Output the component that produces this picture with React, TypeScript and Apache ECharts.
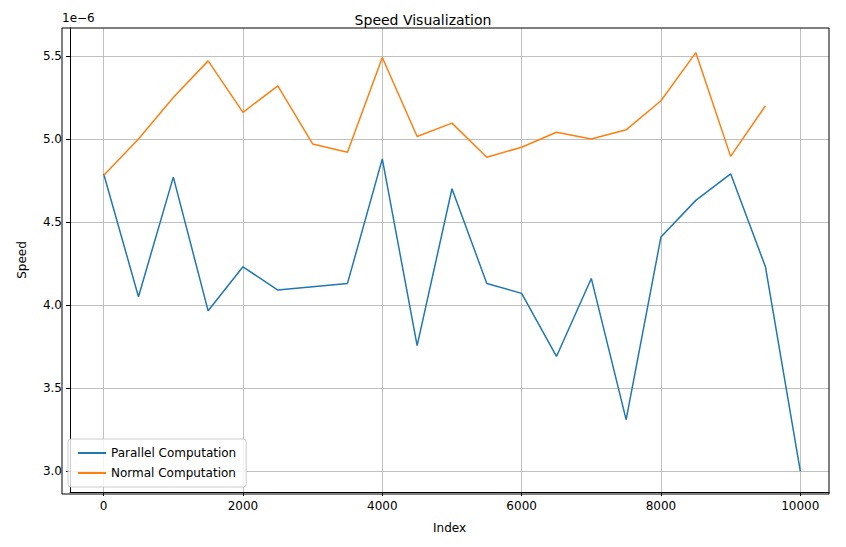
import React, { useRef, useEffect } from 'react'
import * as echarts from 'echarts'

const indices = [0, 500, 1000, 1500, 2000, 2500, 3000, 3500, 4000, 4500, 5000, 5500, 6000, 6500, 7000, 7500, 8000, 8500, 9000, 9500, 10000]
const parallel = [4.79, 4.05, 4.77, 3.965, 4.23, 4.09, 4.11, 4.13, 4.88, 3.755, 4.7, 4.13, 4.07, 3.69, 4.16, 3.31, 4.41, 4.63, 4.79, 4.23, 3.0]
const normal = [4.78, 5.0, 5.25, 5.47, 5.16, 5.32, 4.97, 4.92, 5.49, 5.015, 5.095, 4.89, 4.95, 5.04, 5.0, 5.055, 5.23, 5.52, 4.895, 5.2]
const xTicks = [0, 2000, 4000, 6000, 8000, 10000]
const yTicks = [3.0, 3.5, 4.0, 4.5, 5.0, 5.5]

const font = 'DejaVu Sans'

const App: React.FC = () => {
  const chartRef = useRef<HTMLDivElement>(null)

  useEffect(() => {
    if (!chartRef.current) return
    const chart = echarts.init(chartRef.current, null, { renderer: 'svg' })

    const option = {
      animation: false,
      textStyle: { fontFamily: font },
      title: {
        text: 'Speed Visualization',
        left: 'center',
        top: 0,
        textStyle: { fontFamily: font, fontSize: 14, fontWeight: 'normal', color: '#000' },
      },
      grid: { left: 54, right: 9, top: 20, bottom: 45 },
      legend: {
        orient: 'vertical',
        left: 60,
        bottom: 52,
        itemWidth: 28,
        itemHeight: 2,
        itemGap: 8,
        padding: [8, 10],
        borderColor: '#ccc',
        borderWidth: 1,
        borderRadius: 3,
        backgroundColor: 'rgba(255,255,255,0.8)',
        textStyle: { fontFamily: font, fontSize: 12, color: '#000' },
        icon: 'rect',
        data: ['Parallel Computation', 'Normal Computation'],
      },
      xAxis: {
        type: 'value',
        min: -483,
        max: 10412,
        name: 'Index',
        nameLocation: 'middle',
        nameGap: 30,
        nameTextStyle: { fontFamily: font, fontSize: 12, color: '#000' },
        axisLine: { onZero: false, lineStyle: { color: '#000' } },
        axisTick: { customValues: xTicks, length: 4, lineStyle: { color: '#000' } },
        axisLabel: {
          customValues: xTicks,
          color: '#000',
          fontSize: 12,
          fontFamily: font,
          formatter: (v: number) => String(v),
        },
        splitLine: { show: true, lineStyle: { color: '#b0b0b0', width: 0.8 } },
      },
      yAxis: {
        type: 'value',
        min: 2.874,
        max: 5.668,
        name: 'Speed',
        nameLocation: 'middle',
        nameGap: 42,
        nameTextStyle: { fontFamily: font, fontSize: 12, color: '#000' },
        axisLine: { show: true, onZero: false, lineStyle: { color: '#000' } },
        axisTick: { show: true, customValues: yTicks, length: 4, lineStyle: { color: '#000' } },
        axisLabel: {
          customValues: yTicks,
          color: '#000',
          fontSize: 12,
          fontFamily: font,
          formatter: (v: number) => v.toFixed(1),
        },
        splitLine: { show: true, lineStyle: { color: '#b0b0b0', width: 0.8 } },
      },
      graphic: [
        {
          type: 'text',
          left: 54,
          top: 4,
          style: { text: '1e\u22126', fontFamily: font, fontSize: 12, fill: '#000' },
        },
        {
          type: 'rect',
          shape: { x: 54, y: 20, width: 767, height: 466 },
          style: { fill: 'none', stroke: '#000', lineWidth: 1 },
          silent: true,
          z: 10,
        },
      ],
      series: [
        {
          name: 'Parallel Computation',
          type: 'line',
          data: indices.map((x, i) => [x, parallel[i]]),
          showSymbol: false,
          lineStyle: { color: '#1f77b4', width: 1.5 },
          itemStyle: { color: '#1f77b4' },
        },
        {
          name: 'Normal Computation',
          type: 'line',
          data: normal.map((v, i) => [indices[i], v]),
          showSymbol: false,
          lineStyle: { color: '#ff7f0e', width: 1.5 },
          itemStyle: { color: '#ff7f0e' },
        },
      ],
    }

    chart.setOption(option)
    return () => chart.dispose()
  }, [])

  return <div ref={chartRef} style={{ width: 830, height: 531 }} />
}

export default App
